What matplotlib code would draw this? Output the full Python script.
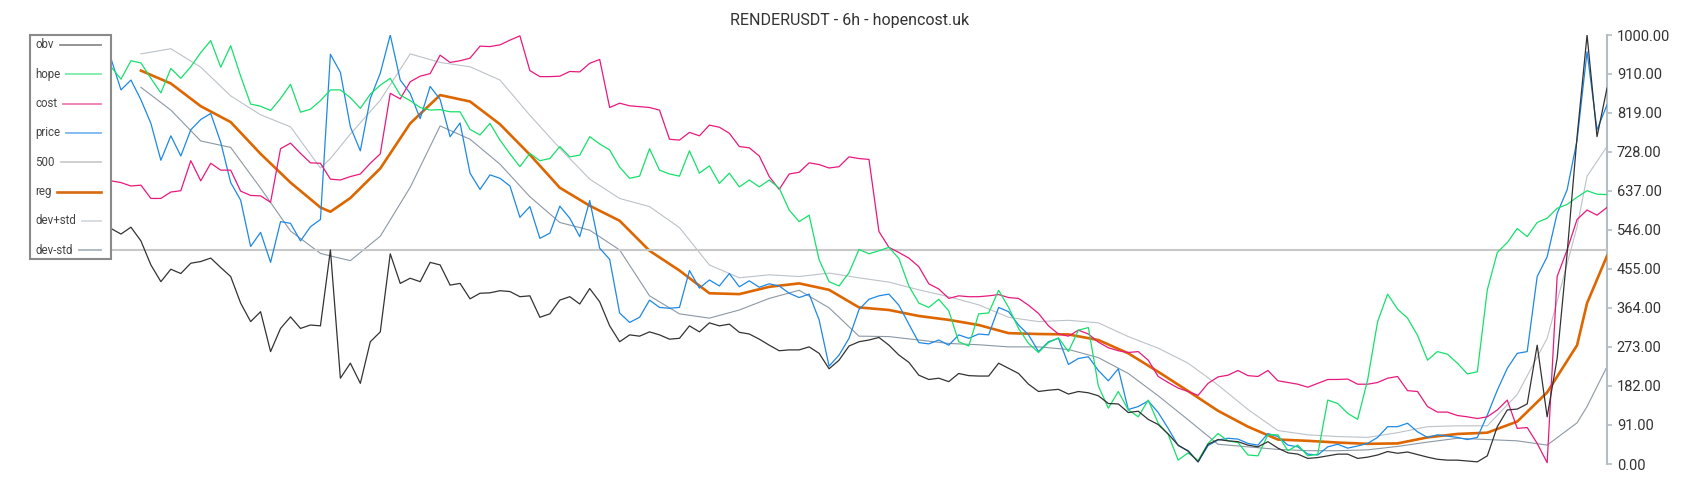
import numpy as np
import matplotlib
matplotlib.use("Agg")
import matplotlib.pyplot as plt
from matplotlib.patches import Rectangle
from matplotlib.lines import Line2D

# --- data (6h bars) ---
price = [945, 872, 895, 849, 794, 708, 765, 718, 779, 803, 817, 750, 656, 615, 507, 540, 470, 565, 561, 520, 553, 570, 955, 913,
         786, 730, 852, 911, 1000, 895, 864, 805, 880, 850, 763, 795, 678, 640, 674, 666, 648, 575, 600, 526, 538, 601, 573, 530, 614,
         503, 477, 352, 330, 342, 382, 365, 363, 365, 451, 410, 429, 415, 444, 413, 427, 412, 420, 415, 398, 388, 396, 336, 228, 254,
         293, 360, 384, 392, 396, 370, 326, 283, 280, 289, 277, 301, 293, 303, 301, 365, 355, 324, 301, 262, 285, 293, 232, 246, 250,
         218, 194, 222, 127, 134, 147, 120, 83, 43, 31, 5, 43, 56, 60, 58, 48, 44, 71, 64, 44, 40, 23, 21, 40, 46,
         37, 42, 48, 62, 87, 87, 95, 75, 62, 68, 65, 62, 57, 62, 114, 172, 223, 258, 262, 437, 483, 584, 639, 755, 961, 779, 837]

obv = [549, 536, 552, 520, 464, 425, 454, 444, 468, 472, 480, 458, 437, 375, 332, 355, 262, 316, 343, 316, 324, 322, 499, 200,
       235, 188, 285, 308, 490, 421, 433, 425, 470, 464, 417, 421, 385, 398, 399, 404, 402, 390, 392, 342, 350, 382, 390, 373, 409,
       378, 322, 285, 301, 298, 308, 301, 291, 293, 322, 308, 329, 322, 326, 307, 303, 291, 277, 264, 266, 266, 273, 258, 222, 242,
       275, 285, 289, 295, 277, 254, 237, 207, 197, 200, 192, 211, 206, 205, 205, 235, 223, 211, 186, 169, 172, 174, 163, 169, 166,
       159, 141, 140, 120, 123, 104, 92, 70, 44, 30, 5, 46, 57, 54, 52, 44, 40, 52, 37, 26, 23, 13, 15, 19, 23,
       23, 13, 16, 21, 29, 25, 28, 22, 16, 11, 9, 9, 7, 5, 19, 87, 126, 128, 140, 277, 110, 246, 491, 763, 1000, 763, 876]

hope = [926, 897, 940, 935, 899, 865, 922, 899, 926, 959, 987, 925, 975, 904, 839, 834, 824, 852, 885, 820, 827, 847, 872, 872,
        854, 829, 862, 883, 899, 860, 847, 831, 825, 826, 821, 821, 780, 767, 794, 755, 723, 693, 724, 707, 712, 740, 716, 720, 763,
        746, 732, 692, 666, 671, 735, 685, 676, 671, 730, 678, 695, 654, 678, 646, 662, 646, 662, 643, 592, 565, 580, 476, 425, 415,
        446, 500, 490, 497, 505, 479, 415, 375, 365, 384, 357, 285, 275, 350, 352, 405, 365, 316, 281, 260, 283, 294, 262, 312, 318,
        182, 130, 169, 126, 110, 149, 95, 69, 9, 26, 8, 48, 71, 54, 50, 21, 19, 68, 68, 31, 44, 19, 23, 149, 141,
        118, 104, 196, 332, 396, 361, 340, 300, 242, 262, 256, 235, 210, 215, 406, 493, 516, 549, 530, 563, 573, 596, 605, 622, 637, 629, 628]

cost = [660, 656, 648, 650, 619, 619, 634, 637, 707, 660, 701, 685, 685, 636, 626, 625, 610, 735, 748, 724, 702, 701, 664, 662,
        670, 676, 701, 723, 864, 851, 891, 904, 910, 953, 936, 940, 946, 974, 973, 977, 988, 998, 917, 903, 903, 904, 915, 914, 934,
        943, 831, 841, 835, 833, 831, 825, 757, 755, 773, 765, 790, 785, 771, 740, 737, 718, 670, 640, 676, 680, 702, 698, 690, 693,
        716, 712, 710, 542, 505, 493, 480, 460, 420, 408, 386, 392, 390, 390, 392, 395, 388, 386, 370, 351, 322, 303, 298, 312, 303,
        284, 271, 264, 260, 262, 242, 204, 190, 177, 169, 160, 188, 203, 207, 218, 206, 204, 218, 194, 190, 186, 179, 188, 197, 197,
        198, 186, 186, 190, 200, 204, 171, 169, 134, 121, 121, 113, 110, 106, 110, 126, 149, 83, 85, 48, 3, 437, 499, 570, 592, 580, 598]

# smooth series are sampled more sparsely (bar index -> value)
smooth_idx = [3, 6, 9, 12, 15, 18, 21, 22, 24, 27, 30, 33, 36, 39, 42, 45, 48, 51, 54, 57, 60, 63, 66, 69, 72,
              75, 78, 81, 84, 87, 90, 93, 96, 99, 102, 105, 108, 111, 114, 117, 120, 123,
              126, 129, 132, 135, 138, 141, 144, 147, 148, 150]
reg = [917, 887, 834, 797, 723, 656, 598, 588, 620, 689, 794, 860, 845, 792, 721, 644, 602,
       567, 497, 451, 398, 396, 413, 421, 406, 365, 359, 345, 336, 324, 305, 303, 302,
       289, 258, 215, 170, 124, 87, 57, 54, 50, 47, 48, 62, 70, 73, 99, 167, 277, 375, 485]
dev_hi = [956, 968, 925, 858, 814, 786, 690, 712, 769, 848, 956, 936, 926, 895, 813, 736, 664,
          619, 600, 551, 464, 434, 441, 437, 445, 434, 424, 406, 390, 371, 342, 332, 335,
          329, 297, 270, 235, 184, 127, 78, 68, 64, 62, 73, 87, 89, 89, 162, 293, 553, 671, 740]
dev_lo = [878, 825, 753, 738, 643, 543, 491, 485, 474, 531, 645, 788, 757, 699, 623, 563, 545,
          499, 392, 350, 340, 359, 386, 405, 364, 298, 297, 289, 281, 278, 273, 273, 267,
          248, 211, 159, 103, 46, 40, 34, 31, 31, 33, 41, 51, 60, 57, 54, 44, 96, 134, 227]

level = 500
yticks = [0, 91, 182, 273, 364, 455, 546, 637, 728, 819, 910, 1000]

# --- styling ---
plt.rcParams['font.family'] = ['Roboto', 'DejaVu Sans']
W, H = 1700, 500
fig = plt.figure(figsize=(17, 5), dpi=100)
ax = fig.add_axes([111 / W, 1 - 464 / H, (1607 - 111) / W, 429 / H])

x = np.arange(len(price))
ax.plot(smooth_idx, dev_lo, color='#8b98a4', lw=0.8, zorder=1)
ax.plot(smooth_idx, dev_hi, color='#bcc2c8', lw=0.8, zorder=2)
ax.plot(smooth_idx, reg, color='#dd6600', lw=1.9, zorder=3)
ax.axhline(level, color='#c8c8c8', lw=1.5, zorder=4)
ax.plot(x, price, color='#1e88e5', lw=0.9, zorder=5)
ax.plot(x, cost, color='#e8197d', lw=0.9, zorder=6)
ax.plot(x, hope, color='#16e06c', lw=0.9, zorder=7)
ax.plot(np.arange(len(obv)), obv, color='#333333', lw=0.9, zorder=8)

ax.set_xlim(0, len(price) - 1)
ax.set_ylim(0, 1000)
ax.set_xticks([])
for s in ['left', 'top', 'bottom']:
    ax.spines[s].set_visible(False)
ax.spines['right'].set_color('#b4bcc4')
ax.spines['right'].set_linewidth(1.5)
ax.yaxis.tick_right()
ax.set_yticks(yticks)
ax.set_yticklabels([f"{v:.2f}" for v in yticks])
ax.tick_params(axis='y', length=3.6, width=1.2, color='#b4bcc4', pad=3.5,
               labelsize=10.5, labelcolor='#333333')

fig.text(0.5, 1 - 20 / H, "RENDERUSDT - 6h - hopencost.uk", ha='center', va='center',
         fontsize=11.5, color='#333333')

# --- legend: label then swatch, box on the left ---
legend_items = [("obv", '#8c8c8c', 1.3), ("hope", '#7deaa8', 1.3), ("cost", '#f07ab0', 1.3),
                ("price", '#7ab8f0', 1.3), ("500", '#cccccc', 1.3), ("reg", '#d86a10', 1.9),
                ("dev+std", '#d4d8dc', 1.3), ("dev-std", '#aab4bc', 1.3)]
fig.patches.append(Rectangle((30 / W, 1 - 259 / H), 81 / W, 224 / H, transform=fig.transFigure,
                             facecolor='white', edgecolor='#8a8a8a', lw=1.5, zorder=10))
rend = fig.canvas.get_renderer()
for k, (lab, col, lw) in enumerate(legend_items):
    y = 1 - (45 + k * 29.3) / H
    t = fig.text(35 / W, y, lab, fontsize=8.3, color='#444444', va='center', zorder=11)
    bb = t.get_window_extent(rend)
    fig.add_artist(Line2D([(bb.x1 + 6) / W, 101 / W], [y, y], transform=fig.transFigure,
                          color=col, lw=lw, zorder=11))

fig.savefig("out.png", dpi=100)
